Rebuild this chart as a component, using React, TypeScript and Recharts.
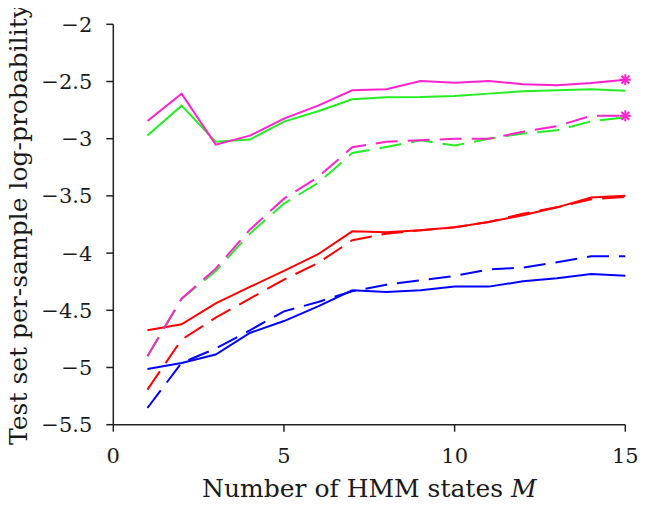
import React from "react";
import { LineChart, Line, XAxis, YAxis } from "recharts";

const states = [1, 2, 3, 4, 5, 6, 7, 8, 9, 10, 11, 12, 13, 14, 15];
const magentaSolid = [-2.845, -2.606, -3.052, -2.973, -2.825, -2.711, -2.577, -2.568, -2.495, -2.51, -2.495, -2.525, -2.533, -2.513, -2.484];
const greenSolid = [-2.973, -2.711, -3.026, -3.008, -2.851, -2.76, -2.656, -2.638, -2.636, -2.627, -2.606, -2.586, -2.577, -2.568, -2.58];
const magentaDashed = [-4.902, -4.398, -4.136, -3.795, -3.524, -3.335, -3.075, -3.026, -3.014, -3.0, -3.0, -2.94, -2.89, -2.8, -2.8];
const greenDashed = [-4.902, -4.4, -4.156, -3.83, -3.567, -3.387, -3.125, -3.072, -3.014, -3.06, -3.0, -2.955, -2.927, -2.848, -2.813];
const redSolid = [-4.675, -4.622, -4.44, -4.296, -4.156, -4.01, -3.81, -3.818, -3.8, -3.775, -3.728, -3.67, -3.6, -3.515, -3.498];
const redDashed = [-5.193, -4.757, -4.564, -4.398, -4.232, -4.086, -3.888, -3.83, -3.8, -3.775, -3.728, -3.655, -3.6, -3.53, -3.51];
const blueSolid = [-5.013, -4.96, -4.887, -4.698, -4.594, -4.465, -4.325, -4.34, -4.325, -4.293, -4.293, -4.247, -4.22, -4.183, -4.197];
const blueDashed = [-5.354, -4.96, -4.835, -4.675, -4.509, -4.427, -4.334, -4.276, -4.238, -4.2, -4.142, -4.127, -4.08, -4.028, -4.028];

const xTicks = [0, 5, 10, 15];
const yTicks = [-5.5, -5, -4.5, -4, -3.5, -3, -2.5, -2];
const xTitle = "Number of HMM states ";
const xTitleVar = "M";
const yTitle = "Test set per-sample log-probability";

const MAGENTA = "#ff22cc";
const GREEN = "#22ee22";
const RED = "#ff0000";
const BLUE = "#0000ff";

const data = states.map((m, i) => ({
  m,
  ms: magentaSolid[i],
  gs: greenSolid[i],
  md: magentaDashed[i],
  gd: greenDashed[i],
  rs: redSolid[i],
  rd: redDashed[i],
  bs: blueSolid[i],
  bd: blueDashed[i],
}));

const FONT = "'DejaVu Serif', serif";
const fmt = (v: number) => (v < 0 ? "\u2212" + Math.abs(v) : String(v));

const Asterisk = (props: any) => {
  const { cx, cy, index } = props;
  if (index !== states.length - 1 || cx == null || cy == null) return <g key={"a" + index} />;
  const r = 5.5;
  const lines = [0, 45, 90, 135].map((a) => {
    const rad = (a * Math.PI) / 180;
    return (
      <line
        key={a}
        x1={cx - r * Math.cos(rad)}
        y1={cy - r * Math.sin(rad)}
        x2={cx + r * Math.cos(rad)}
        y2={cy + r * Math.sin(rad)}
        stroke={MAGENTA}
        strokeWidth={2}
      />
    );
  });
  return <g key={"a" + index}>{lines}</g>;
};

const XTitle = (props: any) => {
  const vb = props.viewBox || {};
  const cx = vb.x + vb.width / 2;
  return (
    <text x={cx} y={497} textAnchor="middle" fontFamily={FONT} fontSize={25} fill="#1a1a1a">
      {xTitle}
      <tspan fontStyle="italic">{xTitleVar}</tspan>
    </text>
  );
};

const YTitle = (props: any) => {
  const vb = props.viewBox || {};
  const cy = vb.y + vb.height / 2;
  const x = 27;
  return (
    <text
      x={x}
      y={cy}
      textAnchor="middle"
      transform={`rotate(-90, ${x}, ${cy})`}
      fontFamily={FONT}
      fontSize={25}
      fill="#1a1a1a"
    >
      {yTitle}
    </text>
  );
};

const tickStyle = { fontFamily: FONT, fontSize: 21, fill: "#1a1a1a" };

export default function App() {
  return (
    <div style={{ margin: "-8px", width: 664, height: 506 }}>
      <LineChart
        width={664}
        height={506}
        data={data}
        margin={{ top: 24.3, right: 38.7, left: 0, bottom: 21.3 }}
      >
        <XAxis
          dataKey="m"
          type="number"
          domain={[0, 15]}
          ticks={xTicks}
          tickFormatter={fmt}
          tickSize={7}
          tickMargin={16}
          height={60}
          stroke="#222"
          strokeWidth={1.5}
          tick={tickStyle}
          label={<XTitle />}
        />
        <YAxis
          type="number"
          domain={[-5.5, -2]}
          ticks={yTicks}
          tickFormatter={fmt}
          tickSize={7}
          tickMargin={14}
          width={113.3}
          stroke="#222"
          strokeWidth={1.5}
          tick={tickStyle}
          interval={0}
          label={<YTitle />}
        />
        <Line dataKey="bs" stroke={BLUE} strokeWidth={2} dot={false} isAnimationActive={false} />
        <Line dataKey="bd" stroke={BLUE} strokeWidth={2} strokeDasharray="22 10" dot={false} isAnimationActive={false} />
        <Line dataKey="rs" stroke={RED} strokeWidth={2} dot={false} isAnimationActive={false} />
        <Line dataKey="rd" stroke={RED} strokeWidth={2} strokeDasharray="22 10" dot={false} isAnimationActive={false} />
        <Line dataKey="gd" stroke={GREEN} strokeWidth={2} strokeDasharray="22 10" dot={false} isAnimationActive={false} />
        <Line dataKey="md" stroke={MAGENTA} strokeWidth={2} strokeDasharray="22 10" dot={<Asterisk />} isAnimationActive={false} />
        <Line dataKey="gs" stroke={GREEN} strokeWidth={2} dot={false} isAnimationActive={false} />
        <Line dataKey="ms" stroke={MAGENTA} strokeWidth={2} dot={<Asterisk />} isAnimationActive={false} />
      </LineChart>
    </div>
  );
}
